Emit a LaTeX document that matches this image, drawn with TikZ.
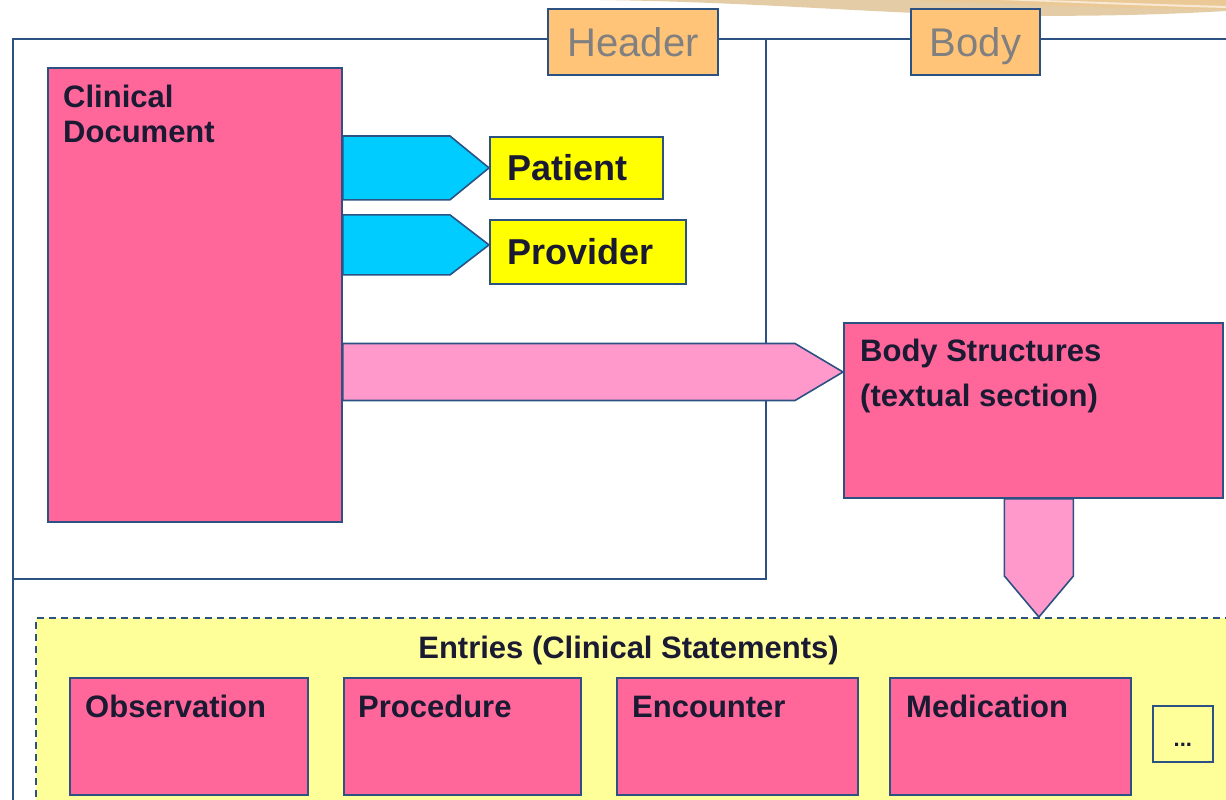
\documentclass[tikz,border=0pt]{standalone}
\usepackage{fontspec}
\setmainfont{Liberation Sans}
\usetikzlibrary{calc}
\definecolor{navy}{HTML}{2B5283}
\definecolor{pinkbox}{HTML}{FF6699}
\definecolor{pinkarr}{HTML}{FF99CC}
\definecolor{cyanarr}{HTML}{00CCFF}
\definecolor{yelbox}{HTML}{FFFF00}
\definecolor{lyel}{HTML}{FFFF99}
\definecolor{orng}{HTML}{FFC477}
\definecolor{txtc}{HTML}{1A1A33}
\definecolor{greytxt}{HTML}{808080}
\definecolor{tanc}{HTML}{E4CCA6}
\definecolor{tand}{HTML}{EBC996}
\tikzset{
  frame/.style={draw=navy, line width=2pt, inner sep=0pt, anchor=north west},
  boxst/.style={draw=navy, line width=1.8pt, inner sep=0pt, anchor=north west},
  pinkst/.style={boxst, fill=pinkbox},
  yelst/.style={boxst, fill=yelbox},
  tabst/.style={draw=navy, line width=1.8pt, fill=orng, inner sep=0pt,
    font=\fontsize{40}{48}\selectfont, text=greytxt, text height=29pt, text depth=0pt},
  lbl/.style={font=\fontsize{31}{36}\selectfont\bfseries, text=txtc, anchor=base west, inner sep=0pt},
  biglbl/.style={font=\fontsize{36}{42}\selectfont\bfseries, text=txtc, anchor=base west, inner sep=0pt},
  cyanarrow/.style={fill=cyanarr, draw=navy, line width=1.6pt, line join=miter},
  pinkarrow/.style={fill=pinkarr, draw=navy, line width=1.6pt, line join=miter},
}
\begin{document}
\begin{tikzpicture}[x=1pt,y=-1pt]
\useasboundingbox (0,0) rectangle (1226,800);
\clip (0,0) rectangle (1226,800);
\fill[white] (0,0) rectangle (1226,800);
% decorative swoosh
\fill[tanc] (600,0) .. controls (760,2) and (880,14) .. (1000,15.5) .. controls (1120,17) and (1190,13) .. (1226,11) -- (1226,0) -- cycle;
\fill[tand] (900,0) .. controls (1000,4) and (1120,9) .. (1226,9) -- (1226,0) -- cycle;
\fill[white, opacity=0.6] (1000,0) .. controls (1080,3) and (1150,6) .. (1226,8) -- (1226,6) .. controls (1150,4) and (1080,1) .. (1040,0) -- cycle;
% body and header frames
\node[frame, minimum width=1300pt, minimum height=900pt] (bodyframe) at (12,38) {};
\node[frame, minimum width=753pt, minimum height=540pt] (hdrframe) at (12,38) {};
% entries area
\node[draw=navy, line width=1.8pt, dash pattern=on 7pt off 5pt, fill=lyel, inner sep=0pt, anchor=north west,
  minimum width=1300pt, minimum height=300pt] (ent) at (35,617) {};
% tabs
\node[tabst, minimum width=170pt, minimum height=66pt] (hdrtab) at (633,42) {Header};
\node[tabst, minimum width=129pt, minimum height=66pt] (bodytab) at (975.5,42) {Body};
% main boxes
\node[pinkst, minimum width=294pt, minimum height=454pt] (cd) at (47,67) {};
\node[yelst, minimum width=173pt, minimum height=62pt] (pat) at (489,136) {};
\node[yelst, minimum width=196pt, minimum height=64pt] (prov) at (489,219) {};
\node[pinkst, minimum width=379pt, minimum height=175pt] (bs) at (843,322) {};
% arrows Clinical Document -> Patient / Provider
\path[cyanarrow] (cd.east |- pat.north) -- ([xshift=-39pt]pat.north west) -- (pat.west)
  -- ([xshift=-39pt]pat.south west) -- (cd.east |- pat.south) -- cycle;
\coordinate (provtip) at ([yshift=7pt]prov.west);
\coordinate (pvt) at ([yshift=30pt]provtip);
\coordinate (pvb) at ([yshift=-30pt]provtip);
\path[cyanarrow] (cd.east |- pvt) -- ([xshift=-39pt]pvt) -- (provtip)
  -- ([xshift=-39pt]pvb) -- (cd.east |- pvb) -- cycle;
% arrow Clinical Document -> Body Structures
\coordinate (bstip) at ([yshift=-50pt]bs.north west);
\coordinate (bst) at ([yshift=28.5pt]bstip);
\coordinate (bsb) at ([yshift=-28.5pt]bstip);
\path[pinkarrow] (cd.east |- bst) -- ([xshift=-48pt]bst) -- (bstip)
  -- ([xshift=-48pt]bsb) -- (cd.east |- bsb) -- cycle;
% arrow Body Structures -> Entries
\coordinate (dx) at ([xshift=5.5pt]bs.south);
\coordinate (dtip) at (dx |- ent.north);
\path[pinkarrow] ([xshift=-34.5pt]dx) -- ([xshift=-34.5pt,yshift=41pt]dtip) -- (dtip)
  -- ([xshift=34.5pt,yshift=41pt]dtip) -- ([xshift=34.5pt]dx) -- cycle;
% entry boxes
\node[pinkst, minimum width=238pt, minimum height=117pt] (obs) at (69,677) {};
\node[pinkst, minimum width=237pt, minimum height=117pt] (proc) at (343,677) {};
\node[pinkst, minimum width=241pt, minimum height=117pt] (enc) at (616,677) {};
\node[pinkst, minimum width=241pt, minimum height=117pt] (med) at (889,677) {};
\node[boxst, fill=lyel, minimum width=60pt, minimum height=56pt] (more) at (1152,705) {};
% texts
\node[lbl] (cdt1) at (63,107) {Clinical};
\node[lbl] (cdt2) at (63,142) {Document};
\node[biglbl] (patt) at (507,180) {Patient};
\node[biglbl] (provt) at (507,264) {Provider};
\node[lbl] (bst1) at (860,361) {Body Structures};
\node[lbl] (bst2) at (860,406) {(textual section)};
\node[lbl, anchor=base] (entt) at (628.5,658) {Entries (Clinical Statements)};
\node[lbl] (obst) at (85,717) {Observation};
\node[lbl] (proct) at (358,717) {Procedure};
\node[lbl] (enct) at (632,717) {Encounter};
\node[lbl] (medt) at (906,717) {Medication};
\node[lbl, anchor=base, font=\fontsize{22}{24}\selectfont\bfseries] (moret) at (more.center |- 0,746) {...};
\end{tikzpicture}
\end{document}
